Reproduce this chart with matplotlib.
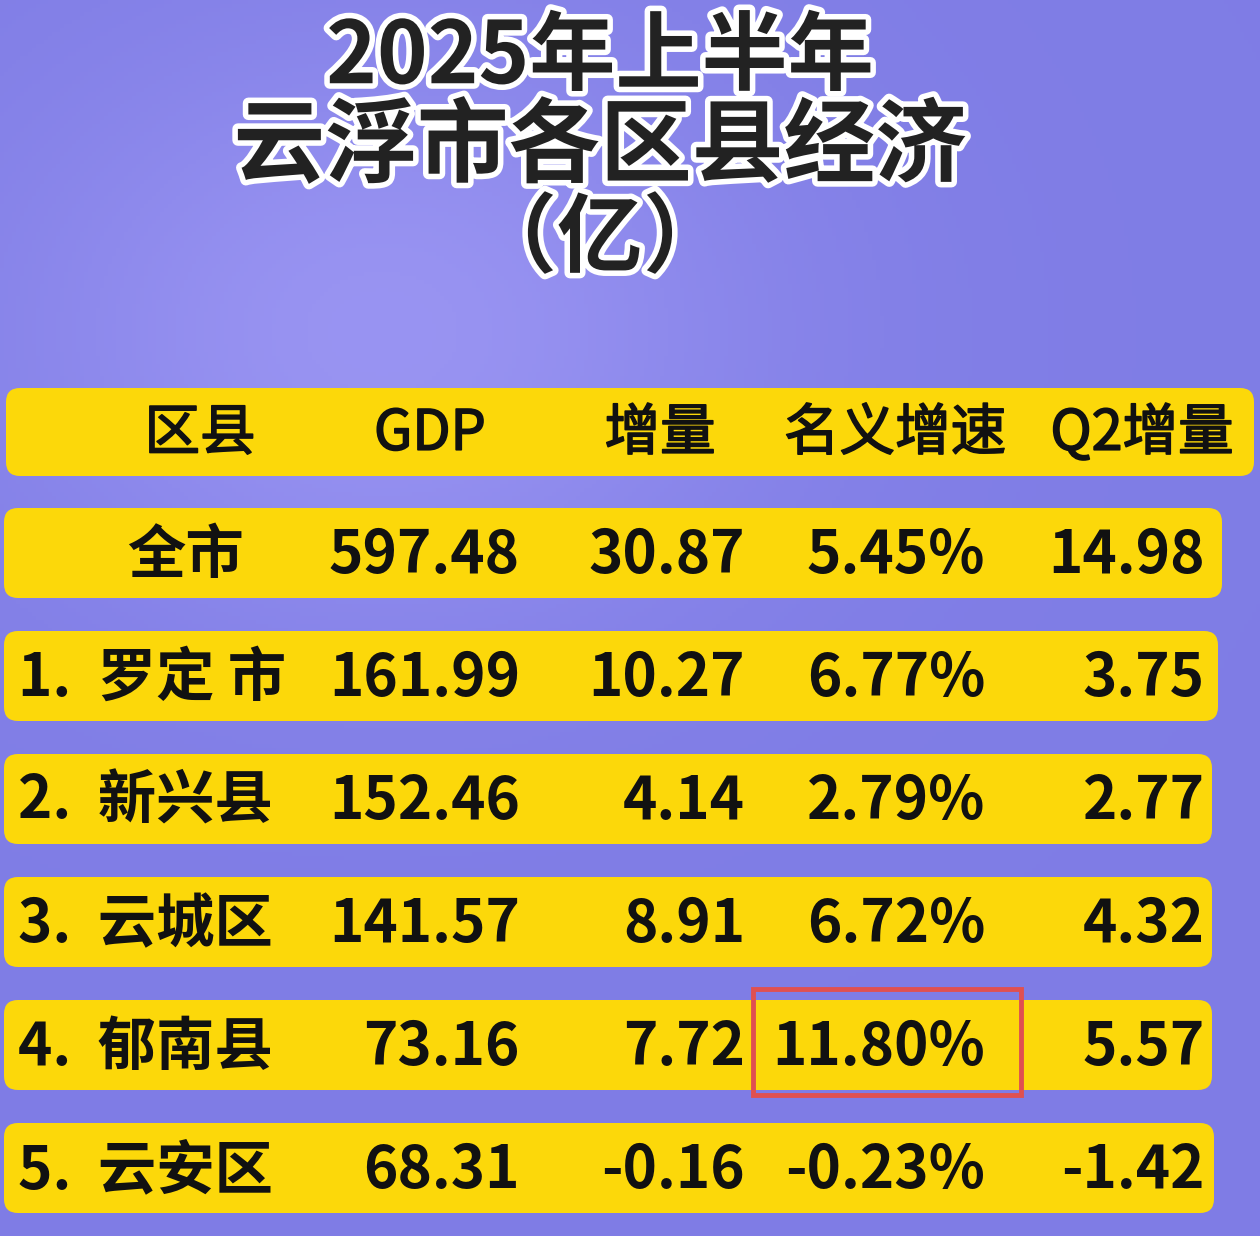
import matplotlib
matplotlib.use("Agg")
import matplotlib.pyplot as plt
import matplotlib.patheffects as pe
from matplotlib.patches import FancyBboxPatch, Rectangle
import numpy as np

plt.rcParams['font.family'] = ['Noto Sans CJK SC', 'DejaVu Sans']

title_lines = ["2025年上半年", "云浮市各区县经济", "（亿）"]
headers = ["区县", "GDP", "增量", "名义增速", "Q2增量"]
names = ["全市", "1.  罗定 市", "2.  新兴县", "3.  云城区", "4.  郁南县", "5.  云安区"]
gdp = ["597.48", "161.99", "152.46", "141.57", "73.16", "68.31"]
inc = ["30.87", "10.27", "4.14", "8.91", "7.72", "-0.16"]
rate = ["5.45%", "6.77%", "2.79%", "6.72%", "11.80%", "-0.23%"]
q2 = ["14.98", "3.75", "2.77", "4.32", "5.57", "-1.42"]
highlight = (4, 3)  # row, column

fig = plt.figure(figsize=(12.6, 12.36), dpi=100)
ax = fig.add_axes([0, 0, 1, 1])
ax.set_xlim(0, 1260)
ax.set_ylim(1236, 0)
ax.axis("off")

# background
yy, xx = np.mgrid[0:1236:4, 0:1260:4]
d = np.exp(-(((xx - 380) / 380.0) ** 2 + ((yy - 330) / 300.0) ** 2))
base = np.array([0.50, 0.49, 0.90])
light = np.array([0.60, 0.58, 0.95])
img = base[None, None, :] * (1 - d[..., None]) + light[None, None, :] * d[..., None]
ax.imshow(img, extent=[0, 1260, 1236, 0], aspect="auto", zorder=0)

stroke = [pe.withStroke(linewidth=8, foreground="white")]
for t, y, fs in zip(title_lines, [58, 148, 240], [62, 66, 62]):
    ax.text(600, y, t, ha="center", va="center", fontsize=fs, fontweight="bold",
            color="#222222", path_effects=stroke, zorder=3)

yellow = "#fcd80a"
ax.add_patch(FancyBboxPatch((6, 388), 1248, 88, boxstyle="round,pad=0,rounding_size=14",
                            fc=yellow, ec="none", zorder=1))
hx = [200, 430, 660, 895, 1142]
for h, x in zip(headers, hx):
    ax.text(x, 434, h, ha="center", va="center", fontsize=40, color="#111111",
            path_effects=[pe.withStroke(linewidth=1.2, foreground="#111111")], zorder=2)

rows_y = [553, 676, 799, 922, 1045, 1168]
right = [1222, 1218, 1212, 1212, 1212, 1214]
for i, y in enumerate(rows_y):
    ax.add_patch(FancyBboxPatch((4, y - 45), right[i] - 4, 90,
                                boxstyle="round,pad=0,rounding_size=14",
                                fc=yellow, ec="none", zorder=1))
    if i == 0:
        ax.text(185, y + 3, names[i], ha="center", va="center", fontsize=42,
                fontweight="bold", color="#111111", zorder=2)
    else:
        ax.text(18, y + 3, names[i], ha="left", va="center", fontsize=42,
                fontweight="bold", color="#111111", zorder=2)
    for vals, x in zip([gdp, inc, rate, q2], [520, 745, 985, 1205]):
        ax.text(x, y + 3, vals[i], ha="right", va="center", fontsize=42,
                fontweight="bold", color="#111111", zorder=2)

r, c = highlight
ax.add_patch(Rectangle((753, rows_y[r] - 56), 268, 106, fill=False,
                       ec="#e05050", lw=3.5, zorder=3))

fig.savefig("out.png", dpi=100)
